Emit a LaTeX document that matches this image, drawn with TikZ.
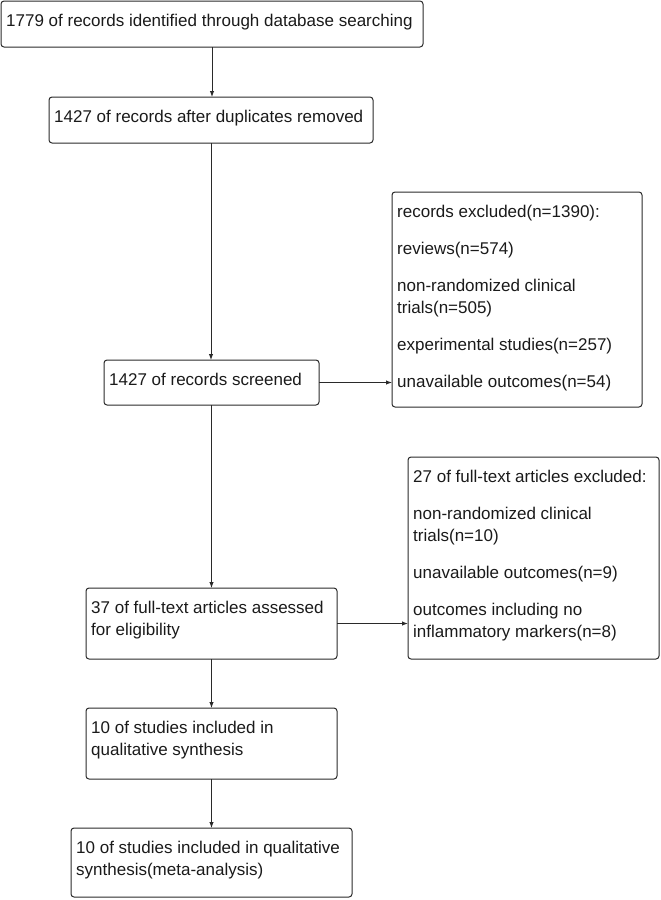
\documentclass[tikz,border=0pt]{standalone}
\usepackage{fontspec}
\setmainfont{Liberation Sans}
\usetikzlibrary{arrows.meta}
\definecolor{linegray}{HTML}{2A2A2A}
\definecolor{textblack}{HTML}{1A1A1A}
\begin{document}
\begin{tikzpicture}[x=1pt,y=-1pt,
  box/.style={draw=linegray, line width=1pt, rounded corners=3pt, inner sep=0pt, outer sep=0pt, anchor=north west},
  txt/.style={anchor=north west, inner sep=0pt, align=left, font=\fontsize{17}{22}\selectfont, text=textblack},
  arr/.style={draw=linegray, line width=1pt, -{Latex[length=6pt,width=4.5pt]}}]
\useasboundingbox (0,0) rectangle (661,900);
% boxes
\node[box, minimum width=422pt, minimum height=46pt] (b1) at (1,1) {};
\node[box, minimum width=324pt, minimum height=46pt] (b2) at (49,97) {};
\node[box, minimum width=215pt, minimum height=45pt] (b3) at (104,360) {};
\node[box, minimum width=250pt, minimum height=215pt] (b4) at (392,192) {};
\node[box, minimum width=251pt, minimum height=202pt] (b5) at (408,457) {};
\node[box, minimum width=251pt, minimum height=71pt] (b6) at (86,588) {};
\node[box, minimum width=251pt, minimum height=71pt] (b7) at (86,708) {};
\node[box, minimum width=281pt, minimum height=69pt] (b8) at (71,828) {};
% texts
\node[txt] (t1) at ([shift={(5,13)}]b1.north west) {1779 of records identified through database searching};
\node[txt] (t2) at ([shift={(5,13)}]b2.north west) {1427 of records after duplicates removed};
\node[txt] (t3) at ([shift={(5,13)}]b3.north west) {1427 of records screened};
\node[txt] (t4) at ([shift={(5,13)}]b4.north west) {records excluded(n=1390):\\[15pt]reviews(n=574)\\[15pt]non-randomized clinical\\trials(n=505)\\[15pt]experimental studies(n=257)\\[15pt]unavailable outcomes(n=54)};
\node[txt] (t5) at ([shift={(5,13)}]b5.north west) {27 of full-text articles excluded:\\[15pt]non-randomized clinical\\trials(n=10)\\[15pt]unavailable outcomes(n=9)\\[15pt]outcomes including no\\inflammatory markers(n=8)};
\node[txt] (t6) at ([shift={(5,13)}]b6.north west) {37 of full-text articles assessed\\for eligibility};
\node[txt] (t7) at ([shift={(5,13)}]b7.north west) {10 of studies included in\\qualitative synthesis};
\node[txt] (t8) at ([shift={(5,13)}]b8.north west) {10 of studies included in qualitative\\synthesis(meta-analysis)};
% connectors
\draw[arr] (b1.south) -- (b1.south |- b2.north);
\draw[arr] (b2.south) -- (b2.south |- b3.north);
\draw[arr] (b3.south) -- (b3.south |- b6.north);
\draw[arr] (b6.south) -- (b6.south |- b7.north);
\draw[arr] (b7.south) -- (b7.south |- b8.north);
\draw[arr] (b3.east) -- (b3.east -| b4.west);
\draw[arr] (b6.east) -- (b6.east -| b5.west);
\end{tikzpicture}
\end{document}
